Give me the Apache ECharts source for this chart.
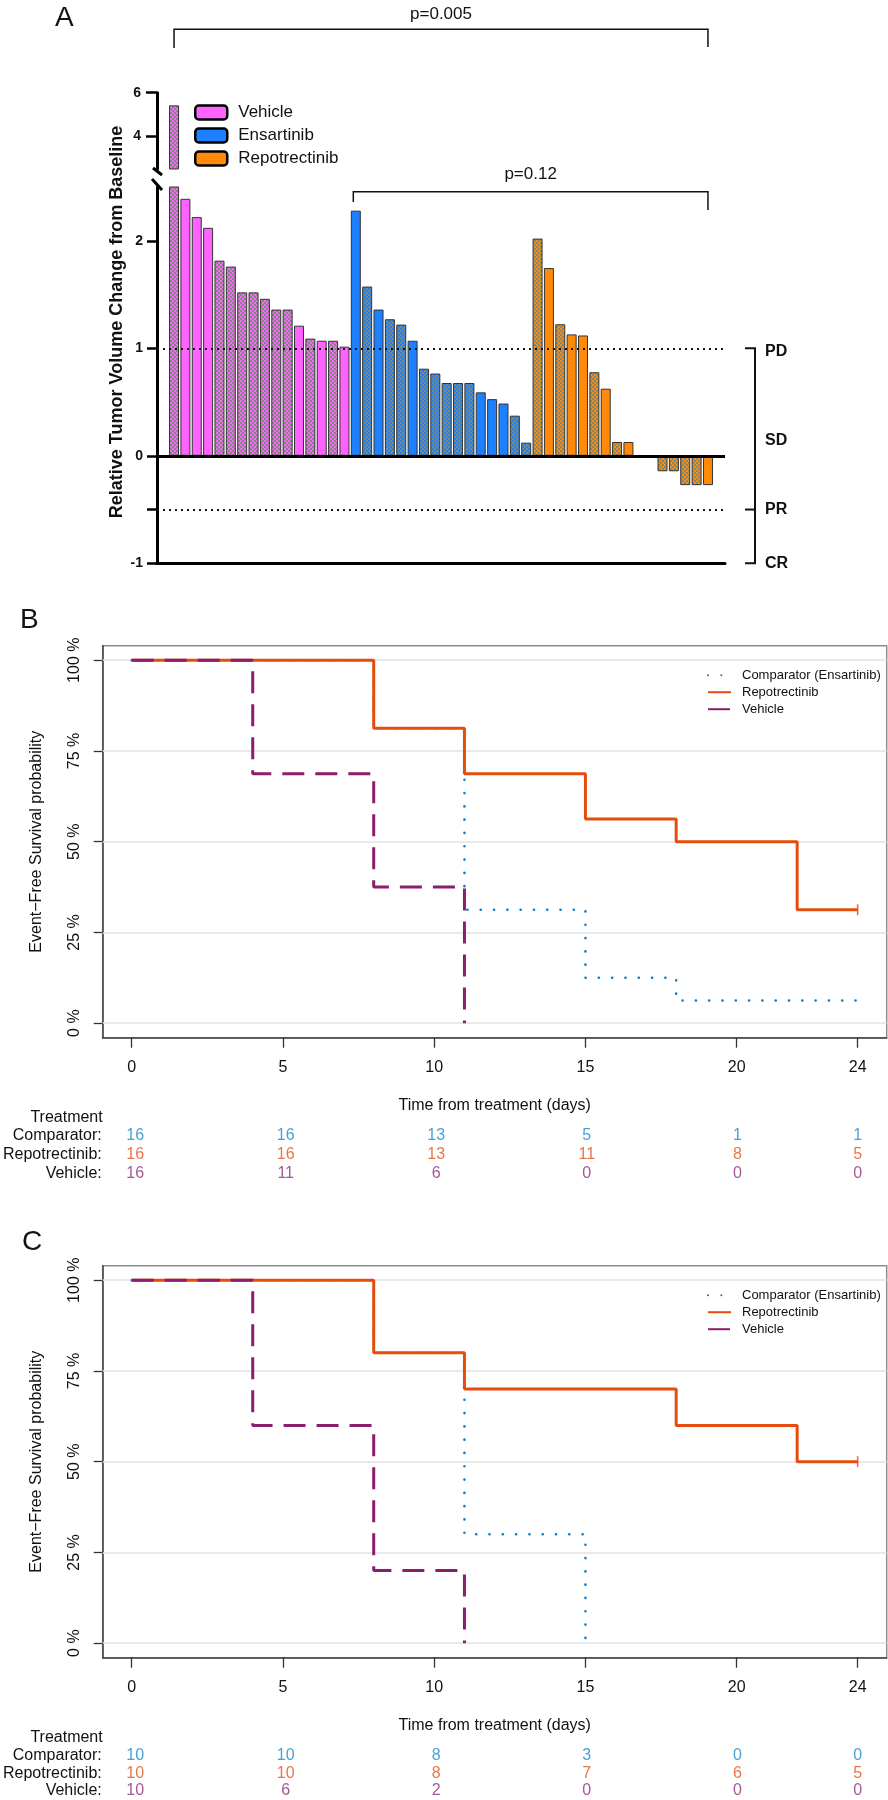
<!DOCTYPE html>
<html><head><meta charset="utf-8">
<script src="https://cdn.jsdelivr.net/npm/echarts@6/dist/echarts.min.js"></script>
<style>html,body{margin:0;padding:0;background:#fff}#c{width:888px;height:1800px}</style>
</head><body><div id="c"></div>
<script>
const FONT = "'Liberation Sans', Arial, Helvetica, sans-serif";

// ---------------- Panel A data ----------------
const vehicleValues = [5.42, 2.39, 2.22, 2.12, 1.815, 1.76, 1.52, 1.52, 1.46, 1.36, 1.36, 1.21, 1.09, 1.07, 1.07, 1.015];
const vehicleHatched = [1,0,0,0,1,1,1,1,1,1,1,0,1,0,1,0];
const ensartinibValues = [2.28, 1.574, 1.36, 1.27, 1.22, 1.07, 0.81, 0.765, 0.677, 0.677, 0.677, 0.59, 0.527, 0.486, 0.373, 0.122];
const ensartinibHatched = [0,1,0,1,1,0,1,1,1,1,1,0,0,0,1,1];
const repotrectinibValues = [2.02, 1.746, 1.223, 1.129, 1.119, 0.777, 0.624, 0.128, 0.128, 0, -0.02, -0.144, -0.144, -0.273, -0.273, -0.273];
const repotrectinibHatched = [1,0,1,0,0,1,0,1,0,0,1,1,1,1,1,0];
const lowerTickValues = [-1, -0.5, 0, 1, 2];
const lowerLabelValues = [-1, 0, 1, 2];
const upperTickValues = [4, 6];
const responseThresholds = [1, -0.5];
const responseLabels = ['PD', 'SD', 'PR', 'CR'];
const responseLabelValues = [1, 0.14, -0.5, -1];
const pValueAll = 'p=0.005';
const pValueEnsRep = 'p=0.12';

// ---------------- Panel B data ----------------
const kmTicksX = [0, 5, 10, 15, 20, 24];
const kmTicksY = [0, 0.25, 0.5, 0.75, 1];
const riskTimes = [0, 5, 10, 15, 20, 24];
const riskRows = ['Comparator:', 'Repotrectinib:', 'Vehicle:'];
const bCompTimes = [0, 8, 11, 15, 18, 24];
const bCompSurv  = [1, 0.8125, 0.3125, 0.125, 0.0625, 0.0625];
const bRepTimes  = [0, 8, 11, 15, 18, 22, 24];
const bRepSurv   = [1, 0.8125, 0.6875, 0.5625, 0.5, 0.3125, 0.3125];
const bVehTimes  = [0, 4, 8, 11];
const bVehSurv   = [1, 0.6875, 0.375, 0];
const bRiskComp = [16, 16, 13, 5, 1, 1];
const bRiskRep  = [16, 16, 13, 11, 8, 5];
const bRiskVeh  = [16, 11, 6, 0, 0, 0];

// ---------------- Panel C data ----------------
const cCompTimes = [0, 8, 11, 15];
const cCompSurv  = [1, 0.8, 0.3, 0];
const cRepTimes  = [0, 8, 11, 18, 22, 24];
const cRepSurv   = [1, 0.8, 0.7, 0.6, 0.5, 0.5];
const cVehTimes  = [0, 4, 8, 11];
const cVehSurv   = [1, 0.6, 0.2, 0];
const cRiskComp = [10, 10, 8, 3, 0, 0];
const cRiskRep  = [10, 10, 8, 7, 6, 5];
const cRiskVeh  = [10, 6, 2, 0, 0, 0];

// ---------------- styling ----------------
const COL = { veh: '#FF63FF', ens: '#1C80FF', rep: '#FF8A0A' };
const KM = { comp: '#0E7EC6', rep: '#E44D0E', veh: '#8A1E6C' };
const RISK = ['#1C88C8', '#E5531A', '#8E2D7E'];

function hatch(color) {
  const c = document.createElement('canvas'); c.width = 4; c.height = 4;
  const g = c.getContext('2d');
  g.fillStyle = color; g.fillRect(0, 0, 4, 4);
  g.fillStyle = '#7b8a7b'; g.fillRect(2, 0, 2, 2); g.fillRect(0, 2, 2, 2);
  return { image: c, repeat: 'repeat' };
}

const nSlots = vehicleValues.length + ensartinibValues.length + repotrectinibValues.length + 2;
const categories = ['pad-start']
  .concat(vehicleValues.map((_, i) => 'Vehicle ' + (i + 1)))
  .concat(ensartinibValues.map((_, i) => 'Ensartinib ' + (i + 1)))
  .concat(repotrectinibValues.map((_, i) => 'Repotrectinib ' + (i + 1)))
  .concat(['pad-end']);
const startVeh = 1, startEns = 1 + vehicleValues.length, startRep = startEns + ensartinibValues.length;
const UPPER_MIN = 2.5, UPPER_MAX = 6, LOWER_MIN = -1, LOWER_MAX = 2.5;

function barData(values, hatched, start, color, keep) {
  const arr = new Array(nSlots).fill('-');
  values.forEach((v, i) => {
    if (keep && !keep(v)) return;
    arr[start + i] = { value: v, itemStyle: { color: hatched[i] ? hatch(color) : color } };
  });
  return arr;
}

const grids = [
  { left: 157, top: 92.7, width: 568, height: 76.3 },
  { left: 157, top: 187, width: 568, height: 376.3 }
];
const xAxes = [
  { gridIndex: 0, type: 'category', data: categories, show: false },
  { gridIndex: 1, type: 'category', data: categories, axisLine: { show: true, onZero: false, lineStyle: { color: '#000', width: 3 } }, axisTick: { show: false }, axisLabel: { show: false } }
];
const boldLbl = { fontFamily: FONT, fontWeight: 'bold', fontSize: 14, color: '#111' };
const yAxes = [
  { gridIndex: 0, type: 'value', min: UPPER_MIN, max: UPPER_MAX,
    axisLine: { show: true, lineStyle: { color: '#000', width: 3 } },
    axisTick: { show: true, customValues: upperTickValues, length: 11, lineStyle: { color: '#000', width: 2.5 } },
    axisLabel: Object.assign({ customValues: upperTickValues, margin: 16 }, boldLbl),
    splitLine: { show: false } },
  { gridIndex: 1, type: 'value', min: LOWER_MIN, max: LOWER_MAX,
    axisLine: { show: true, lineStyle: { color: '#000', width: 3 } },
    axisTick: { show: true, customValues: lowerTickValues, length: 10, lineStyle: { color: '#000', width: 2.5 } },
    axisLabel: Object.assign({ customValues: lowerLabelValues, margin: 14 }, boldLbl),
    splitLine: { show: false } }
];
const barCommon = { type: 'bar', barWidth: '88%', barGap: '-100%', animation: false, silent: true };
const series = [
  Object.assign({ name: 'A|Vehicle', xAxisIndex: 1, yAxisIndex: 1, data: barData(vehicleValues, vehicleHatched, startVeh, COL.veh),
    itemStyle: { color: COL.veh, borderColor: '#333', borderWidth: 1 },
    markLine: { silent: true, symbol: ['none', 'none'], label: { show: false }, animation: false,
      data: responseThresholds.map(v => ({ yAxis: v, lineStyle: { color: '#111', width: 2, type: [2, 4] } }))
        .concat([{ yAxis: 0, lineStyle: { color: '#000', width: 3, type: 'solid' } }]) } }, barCommon),
  Object.assign({ name: 'A|Ensartinib', xAxisIndex: 1, yAxisIndex: 1, data: barData(ensartinibValues, ensartinibHatched, startEns, COL.ens),
    itemStyle: { color: COL.ens, borderColor: '#333', borderWidth: 1 } }, barCommon),
  Object.assign({ name: 'A|Repotrectinib', xAxisIndex: 1, yAxisIndex: 1, data: barData(repotrectinibValues, repotrectinibHatched, startRep, COL.rep),
    itemStyle: { color: COL.rep, borderColor: '#333', borderWidth: 1 } }, barCommon),
  Object.assign({ name: 'A-top|Vehicle', xAxisIndex: 0, yAxisIndex: 0, data: barData(vehicleValues, vehicleHatched, startVeh, COL.veh, v => v > UPPER_MIN),
    itemStyle: { color: COL.veh, borderColor: '#333', borderWidth: 1 } }, barCommon),
  Object.assign({ name: 'A-top|Ensartinib', xAxisIndex: 0, yAxisIndex: 0, data: barData(ensartinibValues, ensartinibHatched, startEns, COL.ens, v => v > UPPER_MIN),
    itemStyle: { color: COL.ens, borderColor: '#333', borderWidth: 1 } }, barCommon),
  Object.assign({ name: 'A-top|Repotrectinib', xAxisIndex: 0, yAxisIndex: 0, data: barData(repotrectinibValues, repotrectinibHatched, startRep, COL.rep, v => v > UPPER_MIN),
    itemStyle: { color: COL.rep, borderColor: '#333', borderWidth: 1 } }, barCommon)
];
const legends = [
  { left: 194, top: 104, padding: 0, orient: 'vertical', itemWidth: 32, itemHeight: 14, itemGap: 6, icon: 'roundRect',
    itemStyle: { borderColor: '#000', borderWidth: 2.5 },
    textStyle: { fontFamily: FONT, fontSize: 17, color: '#111', padding: [0, 0, 0, 6] },
    formatter: n => n.split('|')[1], selectedMode: false,
    data: ['A|Vehicle', 'A|Ensartinib', 'A|Repotrectinib'] }
];

// ---------------- KM panels ----------------
function addKM(prefix, boxTop, comp, rep, veh, risk) {
  const gi = grids.length;
  grids.push({ left: 102.7, top: boxTop, width: 784, height: 392, show: true, borderColor: '#8c8c8c', borderWidth: 1.5 });
  grids.push({ left: 102.7, top: boxTop + 480.8, width: 784, height: 57 });
  const txt = { fontFamily: FONT, fontSize: 16, color: '#111' };
  xAxes.push({ gridIndex: gi, type: 'value', min: -0.96, max: 24.96,
    axisLine: { show: true, onZero: false, lineStyle: { color: '#444', width: 1.5 } },
    axisTick: { show: true, customValues: kmTicksX, length: 10, lineStyle: { color: '#333', width: 1.3 } },
    axisLabel: Object.assign({ customValues: kmTicksX, margin: 22 }, txt),
    splitLine: { show: false },
    name: 'Time from treatment (days)', nameLocation: 'middle', nameGap: 60, nameTextStyle: txt });
  yAxes.push({ gridIndex: gi, type: 'value', min: -0.04, max: 1.04,
    axisLine: { show: true, onZero: false, lineStyle: { color: '#444', width: 1.5 } },
    axisTick: { show: true, customValues: kmTicksY, length: 9, lineStyle: { color: '#333', width: 1.3 } },
    axisLabel: Object.assign({ customValues: kmTicksY, rotate: 90, margin: 20, formatter: v => Math.round(v * 100) + ' %' }, txt),
    splitLine: { show: false },
    name: 'Event\u2212Free Survival probability', nameLocation: 'middle', nameGap: 58, nameTextStyle: txt });
  xAxes.push({ gridIndex: gi + 1, type: 'value', min: -0.96, max: 24.96, show: false });
  yAxes.push({ gridIndex: gi + 1, type: 'category', data: riskRows, inverse: true,
    axisLine: { show: false }, axisTick: { show: false }, axisLabel: Object.assign({ margin: 4.5, interval: 0, hideOverlap: false }, txt) });

  const pts = (t, s) => t.map((x, i) => [x, s[i]]);
  series.push({ type: 'line', xAxisIndex: gi, yAxisIndex: gi, data: [], silent: true, z: 1,
    markLine: { silent: true, z: 1, symbol: ['none', 'none'], label: { show: false }, animation: false,
      lineStyle: { color: '#e2e2e2', width: 1.5, type: 'solid' }, data: kmTicksY.map(v => ({ yAxis: v })) } });
  const names = [prefix + '|Comparator (Ensartinib)', prefix + '|Repotrectinib', prefix + '|Vehicle'];
  series.push({ name: names[0], type: 'line', step: 'end', xAxisIndex: gi, yAxisIndex: gi, data: pts(comp[0], comp[1]),
    symbol: 'none', silent: true, z: 3, itemStyle: { color: KM.comp },
    lineStyle: { color: KM.comp, width: 2.6, type: [0.1, 13.2], cap: 'round' } });
  series.push({ name: names[1], type: 'line', step: 'end', xAxisIndex: gi, yAxisIndex: gi, data: pts(rep[0], rep[1]),
    symbol: 'none', silent: true, z: 4, itemStyle: { color: KM.rep },
    lineStyle: { color: KM.rep, width: 3, type: 'solid' } });
  series.push({ name: names[2], type: 'line', step: 'end', xAxisIndex: gi, yAxisIndex: gi, data: pts(veh[0], veh[1]),
    symbol: 'none', silent: true, z: 5, itemStyle: { color: KM.veh },
    lineStyle: { color: KM.veh, width: 3, type: [22, 11] } });
  // censor tick at the end of the repotrectinib curve
  const lastI = rep[0].length - 1;
  series.push({ type: 'scatter', xAxisIndex: gi, yAxisIndex: gi, data: [[rep[0][lastI], rep[1][lastI]]],
    symbol: 'rect', symbolSize: [1.6, 11], itemStyle: { color: KM.rep }, silent: true, z: 6 });
  // risk table
  risk.forEach((vals, r) => {
    series.push({ type: 'scatter', xAxisIndex: gi + 1, yAxisIndex: gi + 1, silent: true,
      data: riskTimes.map((t, i) => [t, r, vals[i]]), symbolSize: 1, itemStyle: { color: 'rgba(0,0,0,0)' },
      label: { show: true, position: 'inside', formatter: p => String(p.value[2]), color: RISK[r], fontFamily: FONT, fontSize: 16 } });
  });
  legends.push({ left: 707, top: boxTop + 23, padding: 0, orient: 'vertical', itemWidth: 23, itemHeight: 12, itemGap: 4,
    itemStyle: { opacity: 0 },
    textStyle: { fontFamily: FONT, fontSize: 13, color: '#111', padding: [0, 0, 0, 6] },
    formatter: n => n.split('|')[1], selectedMode: false, data: names });
  return gi;
}
const giB = addKM('B', 645.7, [bCompTimes, bCompSurv], [bRepTimes, bRepSurv], [bVehTimes, bVehSurv], [bRiskComp, bRiskRep, bRiskVeh]);
const giC = addKM('C', 1265.7, [cCompTimes, cCompSurv], [cRepTimes, cRepSurv], [cVehTimes, cVehSurv], [cRiskComp, cRiskRep, cRiskVeh]);

const chart = echarts.init(document.getElementById('c'), null, { renderer: 'canvas' });
chart.setOption({ animation: false, backgroundColor: '#fff', grid: grids, xAxis: xAxes, yAxis: yAxes, series: series, legend: legends });

// ---------------- annotations ----------------
const px = (g, x, y) => chart.convertToPixel({ gridIndex: g }, [x, y]);
const G = [];
const T = (text, x, y, o) => G.push(Object.assign({ type: 'text', x, y, silent: true,
  style: Object.assign({ text, fontFamily: FONT, fontSize: 16, fill: '#111', align: 'center', verticalAlign: 'middle', textAlign: 'center', textVerticalAlign: 'middle' }, o && o.style || {}) },
  o && o.rotation ? { rotation: o.rotation } : {}));
const L = (pts, w) => G.push({ type: 'polyline', silent: true, shape: { points: pts }, style: { stroke: '#111', lineWidth: w || 1.5, fill: null } });

// panel letters
T('A', 55, 18, { style: { fontSize: 28, align: 'left', textAlign: 'left' } });
T('B', 20, 620, { style: { fontSize: 28, align: 'left', textAlign: 'left' } });
T('C', 22, 1242, { style: { fontSize: 28, align: 'left', textAlign: 'left' } });

// y title for panel A
T('Relative Tumor Volume Change from Baseline', 117, 322, { rotation: Math.PI / 2, style: { fontSize: 18, fontWeight: 'bold' } });

// p-value brackets
const xFirstVeh = px(1, startVeh, 0)[0];
const xFirstEns = px(1, startEns, 0)[0] - 2.5;
const xLastRep = px(1, startRep + repotrectinibValues.length - 1, 0)[0];
L([[xFirstVeh, 48], [xFirstVeh, 29.3], [xLastRep, 29.3], [xLastRep, 47]]);
T(pValueAll, (xFirstVeh + xLastRep) / 2, 14, { style: { fontSize: 17 } });
L([[xFirstEns, 202], [xFirstEns, 191.7], [xLastRep, 191.7], [xLastRep, 210]]);
T(pValueEnsRep, (xFirstEns + xLastRep) / 2, 174.3, { style: { fontSize: 17 } });

// response bracket (PD / SD / PR / CR)
const brX = 755;
const yPD = px(1, 0, 1)[1], yPR = px(1, 0, -0.5)[1], yCR = px(1, 0, -1)[1];
L([[brX - 10, yPD], [brX, yPD], [brX, yCR], [brX - 10, yCR]], 2);
L([[brX - 10, yPR], [brX, yPR]], 2);
responseLabels.forEach((s, i) => {
  const y = px(1, 0, responseLabelValues[i])[1] + (i === 0 ? 3 : 0);
  T(s, 765, y, { style: { fontSize: 16, fontWeight: 'bold', align: 'left', textAlign: 'left' } });
});

// axis break marks
const axX = grids[1].left;
const yUpBottom = px(0, 0, UPPER_MIN)[1], yLowTop = px(1, 0, LOWER_MAX)[1];
G.push({ type: 'line', silent: true, shape: { x1: axX - 4, y1: yUpBottom - 1, x2: axX + 5, y2: yUpBottom + 6 }, style: { stroke: '#000', lineWidth: 3 } });
G.push({ type: 'line', silent: true, shape: { x1: axX - 5, y1: yLowTop - 8, x2: axX + 5, y2: yLowTop + 3 }, style: { stroke: '#000', lineWidth: 3 } });

// risk table headers
[giB, giC].forEach(g => {
  const top = grids[g].top;
  T('Treatment', 102.7, top + 471.6, { style: { fontSize: 16, align: 'right', textAlign: 'right' } });
});

chart.setOption({ graphic: { elements: G } });
</script></body></html>
